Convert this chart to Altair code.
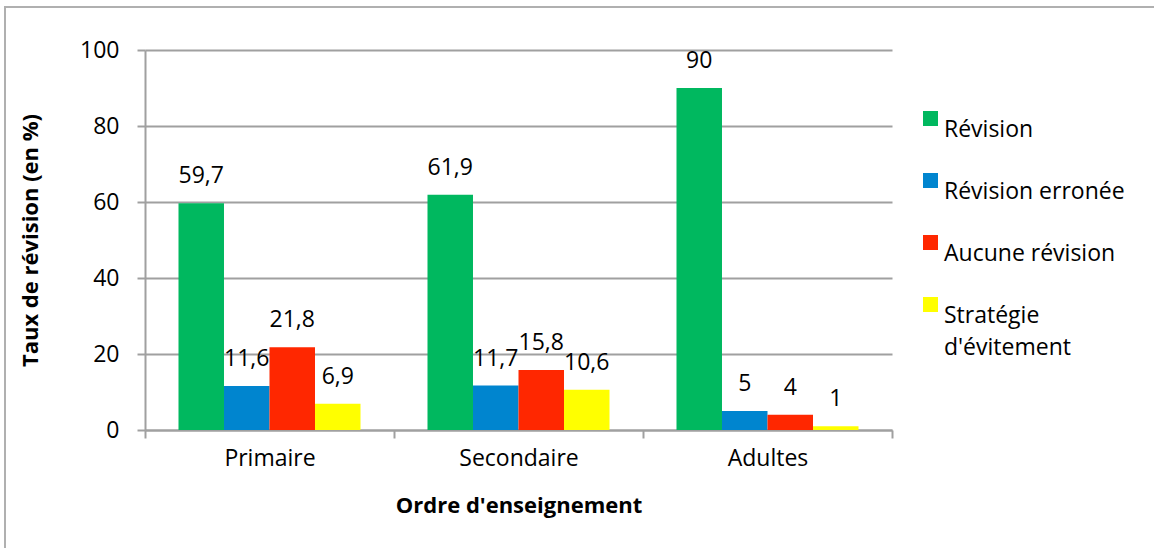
import altair as alt
import pandas as pd

categories = ["Primaire", "Secondaire", "Adultes"]
series = ["Révision", "Révision erronée", "Aucune révision", "Stratégie d'évitement"]
revision = [59.7, 61.9, 90]
revision_erronee = [11.6, 11.7, 5]
aucune_revision = [21.8, 15.8, 4]
strategie = [6.9, 10.6, 1]
colors = ["#00B85F", "#0085CF", "#FF2700", "#FFFF00"]

rows = []
for i, c in enumerate(categories):
    for s, vals in zip(series, [revision, revision_erronee, aucune_revision, strategie]):
        rows.append({"ordre": c, "serie": s, "valeur": vals[i]})
df = pd.DataFrame(rows)

FONT = "Open Sans"
GRAY = "#A0A0A0"

x = alt.X("ordre:N", sort=categories,
          scale=alt.Scale(paddingInner=0, paddingOuter=0),
          axis=alt.Axis(title="Ordre d'enseignement", labelAngle=0, tickBand="extent",
                        domainColor=GRAY, tickColor=GRAY, tickSize=8, domainWidth=2, tickWidth=2,
                        labelFontSize=23, labelPadding=9, labelColor="#000",
                        titleFontSize=22, titleFontWeight="bold", titleColor="#000",
                        titleX=373.5, titleY=75, titleBaseline="middle", grid=False))
xo = alt.XOffset("serie:N", sort=series, scale=alt.Scale(paddingInner=0, paddingOuter=0.736))
y = alt.Y("valeur:Q", scale=alt.Scale(domain=[0, 100], nice=False),
          axis=alt.Axis(title="Taux de révision (en %)", values=[0, 20, 40, 60, 80, 100],
                        domainColor=GRAY, tickColor=GRAY, tickSize=8, domainWidth=2, tickWidth=2,
                        gridColor=GRAY, gridWidth=2, labelFontSize=23, labelPadding=18,
                        labelColor="#000", titleFontSize=22, titleFontWeight="bold",
                        titleColor="#000", titleX=-115, titleY=190, titleAngle=-90,
                        titleAlign="center", titleBaseline="middle"))
color = alt.Color("serie:N", sort=series, scale=alt.Scale(domain=series, range=colors),
                  legend=alt.Legend(title=None, orient="none", legendX=774, legendY=57,
                                    symbolType="square", symbolSize=225, symbolStrokeWidth=0,
                                    labelFontSize=23, labelColor="#000", rowPadding=27,
                                    labelOffset=2, labelLimit=300, labelBaseline="top",
                                    labelExpr="datum.label == \"Stratégie d'évitement\" ? ['Stratégie', \"d'évitement\"] : datum.label"))

bars = alt.Chart(df).mark_bar(size=45.5).encode(x=x, xOffset=xo, y=y, color=color)

labels = alt.Chart(df).transform_calculate(
    txt="replace(format(datum.valeur, '.1~f'), '.', ',')"
).mark_text(fontSize=23, font=FONT, color="#000", baseline="alphabetic", dy=-20).encode(
    x=alt.X("ordre:N", sort=categories), xOffset=alt.XOffset("serie:N", sort=series),
    y="valeur:Q", text="txt:N")

frame = alt.Chart(df).mark_rect(fill=None, stroke="#B0B0B0", strokeWidth=2).encode(
    x=alt.value(-140), x2=alt.value(1200), y=alt.value(-43), y2=alt.value(600))

chart = alt.layer(frame, bars, labels).properties(
    width=747, height=380,
    autosize=alt.AutoSizeParams(type="none"),
    padding={"left": 145, "top": 50, "right": 262, "bottom": 118},
).configure(font=FONT, style={"guide-label": {"lineHeight": 32}}).configure_view(
    stroke=None).configure_axis(labelFont=FONT, titleFont=FONT).configure_legend(labelFont=FONT)

chart.save("out.html", embed_options={"renderer": "svg", "actions": False})
